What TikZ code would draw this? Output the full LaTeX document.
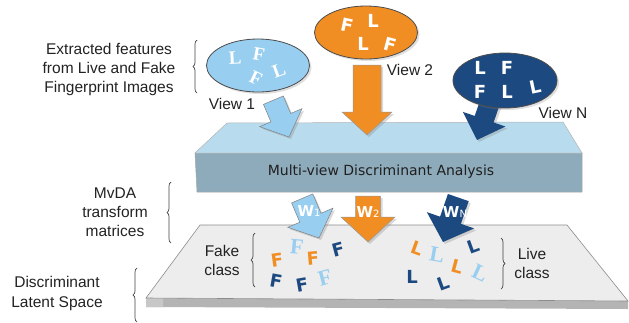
\documentclass[tikz,border=0pt]{standalone}
\usepackage{fontspec}
\setmainfont{Liberation Sans}
\newfontfamily\djv{DejaVu Sans}
\newfontfamily\serL{Liberation Serif}
\usetikzlibrary{shadows,decorations.pathreplacing,shapes.geometric}

\definecolor{ltblue}{HTML}{98CEF0}
\definecolor{orng}{HTML}{F08E24}
\definecolor{dkblue}{HTML}{1C4A80}
\definecolor{boxtop}{HTML}{B8DCEE}
\definecolor{boxfront}{HTML}{8EABBB}
\definecolor{plattop}{HTML}{EDEDED}
\definecolor{platfront}{HTML}{B4B4B4}
\definecolor{txt}{HTML}{222222}

\newcommand\BlkArrow[7]{%
  \begin{scope}[shift={(#1)},rotate=#2]
    \path[#7] (0,0) -- (-#6,#5/2) -- (-#6,#4/2) -- (-#3,#4/2) -- (-#3,-#4/2)
      -- (-#6,-#4/2) -- (-#6,-#5/2) -- cycle;
  \end{scope}}

\tikzset{
  lbl/.style={font=\fontsize{15.5}{19}\selectfont, text=txt, align=center, inner sep=0pt},
  viewell/.style={ellipse, draw=black!70, line width=0.8pt, inner sep=0pt,
    minimum width=103pt, minimum height=53pt,
    drop shadow={opacity=0.25, shadow xshift=2pt, shadow yshift=-2pt}},
  serltr/.style={font=\serL\bfseries\fontsize{19}{19}\selectfont, inner sep=0pt},
  sansltr/.style={font=\djv\bfseries\fontsize{18}{18}\selectfont, inner sep=0pt},
  bigser/.style={font=\serL\bfseries\fontsize{22}{22}\selectfont, inner sep=0pt, text=ltblue},
  arrshadow/.style={drop shadow={opacity=0.3, shadow xshift=2pt, shadow yshift=-2pt}},
  wlbl/.style={text=white, inner sep=0pt, font=\djv},
  bracestyle/.style={decorate, decoration={brace, amplitude=4pt}, draw=black!75, line width=0.7pt},
}

\begin{document}
\begin{tikzpicture}[x=1pt, y=-1pt]
\useasboundingbox (0,0) rectangle (629,322);

% ---- bottom platform (latent space)
\fill[platfront] (146,298) -- (628,301) -- (628,309) -- (146,307) -- cycle;
\fill[black!22] (146,298) -- (163,298.1) -- (163,307.1) -- (146,307) -- cycle;
\path[fill=plattop, draw=black!45, line width=0.6pt]
  (200,225) -- (567,225) -- (628,301) -- (146,298) -- cycle;

% ---- MvDA box
\path[fill=boxfront, draw=black!35, line width=0.5pt]
  (195,153) -- (582,153) -- (582,192) -- (197,192) -- cycle;
\path[fill=boxtop, draw=black!30, line width=0.5pt]
  (227,123) -- (563,122) -- (582,153) -- (195,153) -- cycle;
\node[font=\djv\fontsize{14}{14}\selectfont, text=black!88, inner sep=0pt] (mvda) at (381,172) {Multi-view Discriminant Analysis};

% ---- arrows from the views
\BlkArrow{289,137}{-67}{40}{21.5}{46}{21}{fill=ltblue, draw=black!50, line width=0.5pt, arrshadow}
\BlkArrow{367,135}{-90}{70}{28}{50}{23}{fill=orng, draw=black!40, line width=0.5pt, arrshadow}
\BlkArrow{477,140}{-109}{42}{20}{45}{22}{fill=dkblue, arrshadow}

% ---- view ellipses
\node[viewell, fill=ltblue] (v1) at (258,65.5) {};
\node[viewell, fill=orng] (v2) at (366,32.5) {};
\node[viewell, fill=dkblue, minimum width=104pt, minimum height=55pt] (vn) at (505,80.5) {};

\node[serltr, text=white, rotate=3] (v1a) at (235,58) {L};
\node[serltr, text=white, rotate=-10] (v1b) at (259,54) {F};
\node[serltr, text=white, rotate=-25] (v1c) at (256,78) {F};
\node[serltr, text=white, rotate=20] (v1d) at (279,70) {L};

\node[sansltr, text=white, rotate=-12] (v2a) at (347,25) {F};
\node[sansltr, text=white] (v2b) at (373,21) {L};
\node[sansltr, text=white] (v2c) at (363,44) {L};
\node[sansltr, text=white, rotate=-15] (v2d) at (390,45) {F};

\node[sansltr, text=white] (vna) at (480,68) {L};
\node[sansltr, text=white] (vnb) at (507,68) {F};
\node[sansltr, text=white] (vnc) at (480,92) {F};
\node[sansltr, text=white] (vnd) at (507,92) {L};
\node[sansltr, text=white, rotate=12] (vne) at (535,87) {L};

\node[lbl, anchor=center] (lv1) at (232,104) {View 1};
\node[lbl, anchor=center] (lv2) at (410,70) {View 2};
\node[lbl, anchor=center] (lvn) at (563,113) {View N};

% ---- letters in latent space (fake)
\node[sansltr, text=orng, rotate=8] (f1) at (277,260) {F};
\node[bigser, rotate=-5] (f2) at (297,247) {F};
\node[sansltr, text=orng, rotate=5] (f3) at (313,258) {F};
\node[sansltr, text=dkblue, rotate=15] (f4) at (338,250) {F};
\node[sansltr, text=dkblue, rotate=-10] (f5) at (276,281) {F};
\node[sansltr, text=dkblue, rotate=10] (f6) at (302,285) {F};
\node[bigser, rotate=15] (f7) at (325,278) {F};

% ---- letters in latent space (live)
\node[sansltr, text=orng, rotate=-20] (l1) at (417,248) {L};
\node[bigser, rotate=-10] (l2) at (437,255) {L};
\node[sansltr, text=dkblue, rotate=20] (l3) at (473,246) {L};
\node[sansltr, text=orng, rotate=-15] (l4) at (457,267) {L};
\node[bigser, rotate=-25] (l5) at (480,273) {L};
\node[sansltr, text=dkblue] (l6) at (412,277) {L};
\node[sansltr, text=dkblue, rotate=20] (l7) at (443,283) {L};

% ---- transform arrows
\BlkArrow{319,238}{-67}{43}{23}{49}{22}{fill=ltblue, draw=black!50, line width=0.5pt, arrshadow}
\BlkArrow{368,242}{-90}{46}{25}{54}{25}{fill=orng, draw=black!40, line width=0.5pt, arrshadow}
\BlkArrow{443,242}{-109}{47}{22}{50}{23}{fill=dkblue, arrshadow}

\node[wlbl] (w1) at (309,211) {{\bfseries\fontsize{15}{15}\selectfont W}{\fontsize{10}{10}\selectfont 1}};
\node[wlbl] (w2) at (368,212) {{\bfseries\fontsize{15}{15}\selectfont W}{\fontsize{10}{10}\selectfont 2}};
\node[wlbl] (wn) at (455,212) {{\bfseries\fontsize{15}{15}\selectfont W}{\fontsize{10}{10}\selectfont N}};

% ---- side labels
\node[lbl] (ext) at (109,69) {Extracted features\\from Live and Fake\\Fingerprint Images};
\node[lbl] (mat) at (115,212) {MvDA\\transform\\matrices};
\node[lbl, font=\fontsize{15.5}{20}\selectfont] (dls) at (57,293) {Discriminant\\Latent Space};
\node[lbl] (fake) at (222,260.5) {Fake\\class};
\node[lbl] (live) at (532,263.5) {Live\\class};

% ---- braces
\draw[bracestyle] (197,93) -- (197,40);
\draw[bracestyle] (171,243) -- (171,182);
\draw[bracestyle] (137,322) -- (137,268);
\draw[bracestyle] (255,287) -- (255,233);
\draw[bracestyle] (501,238) -- (501,289);
\end{tikzpicture}
\end{document}
